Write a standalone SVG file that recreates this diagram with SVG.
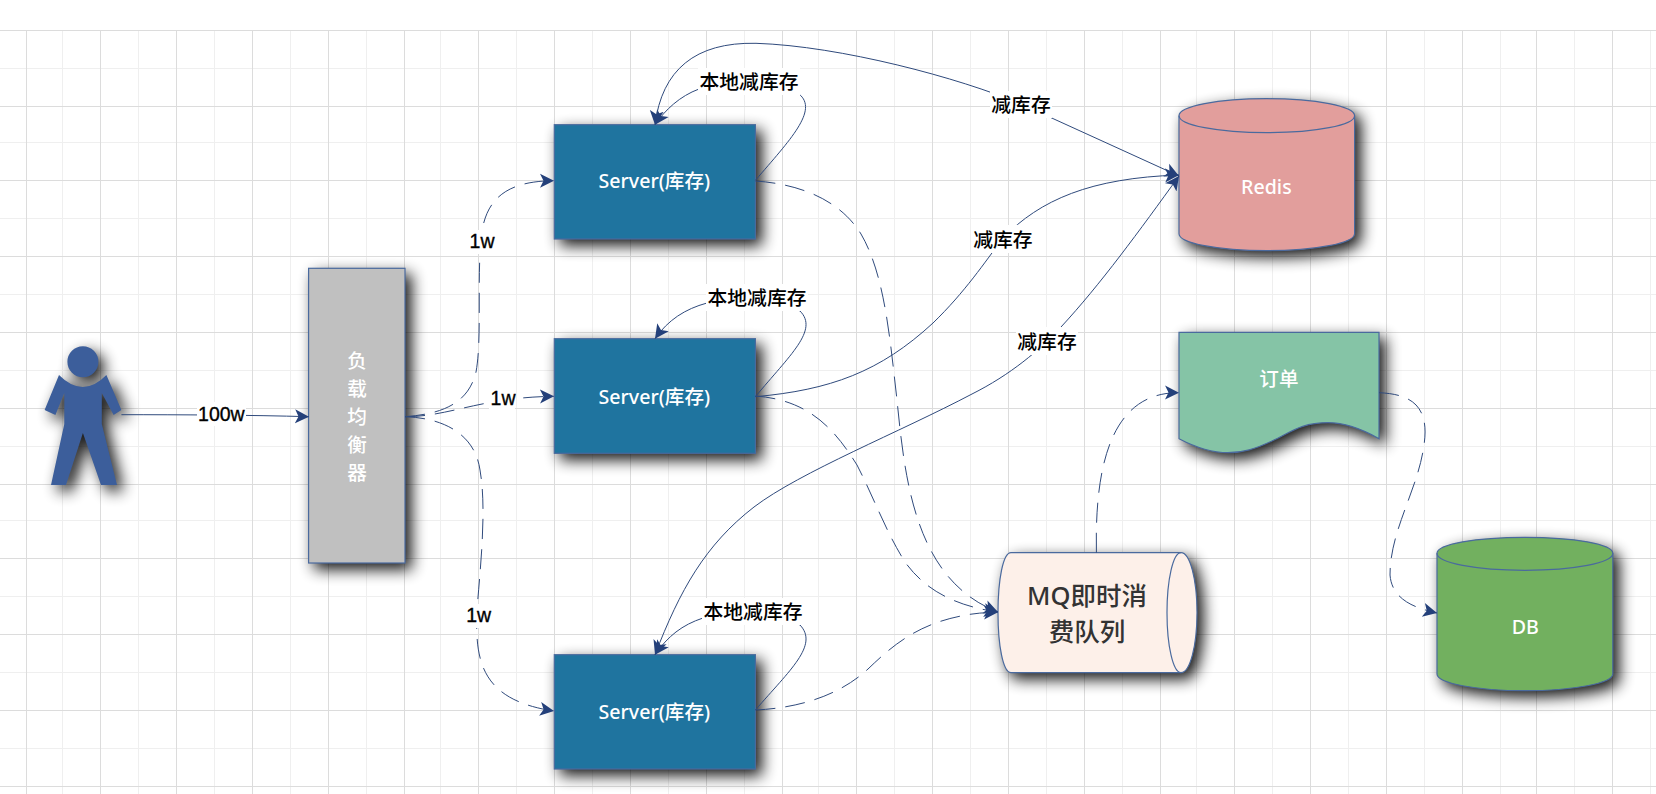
<svg xmlns="http://www.w3.org/2000/svg" width="1656" height="794" viewBox="0 0 1656 794">
<style>
.maj{stroke:#dcdcdc;stroke-width:1;fill:none}
.min{stroke:#efefef;stroke-width:1;fill:none}
.shape{stroke:#4a6a9e;stroke-width:1.2}
.line{stroke:#4a6a9e;stroke-width:1.2;fill:none}
.c{fill:none;stroke:#2f4a7c;stroke-width:1}
.d{stroke-dasharray:20 10}
.a{marker-end:url(#ar)}
.b{marker-start:url(#ar)}
.lb{font:19.5px "Liberation Sans","Noto Sans CJK SC",sans-serif;fill:#000;stroke:#000;stroke-width:.35;text-anchor:middle;dominant-baseline:central}
.lc{font:500 19.8px "Noto Sans CJK SC",sans-serif;fill:#000;text-anchor:middle;dominant-baseline:central}
.bg{fill:#fff}
.t{font:500 19.6px "Noto Sans","Noto Sans CJK SC",sans-serif;fill:#fff;text-anchor:middle;dominant-baseline:central}
.mq{font:500 25.5px "Noto Sans","Noto Sans CJK SC",sans-serif;fill:#333;text-anchor:middle;dominant-baseline:central}
</style>
<defs>
<filter id="sh" x="-40%" y="-40%" width="180%" height="180%" color-interpolation-filters="sRGB"><feGaussianBlur in="SourceAlpha" stdDeviation="7.5"/><feOffset dx="6" dy="6"/><feComponentTransfer result="s"><feFuncA type="linear" slope=".92"/></feComponentTransfer><feMerge><feMergeNode in="s"/><feMergeNode in="SourceGraphic"/></feMerge></filter>
<marker id="ar" markerUnits="userSpaceOnUse" markerWidth="16" markerHeight="18" viewBox="0 -9 16 18" refX="14" refY="0" orient="auto-start-reverse"><path d="M0-7L14 0L0 7L3.5 0Z" fill="#24407a"/></marker>
</defs>
<rect width="1656" height="794" fill="#fff"/>
<g id="grid">
<path class="min" d="M0 68.5H1656M0 142.5H1656M0 218.5H1656M0 294.5H1656M0 370.5H1656M0 446.5H1656M0 520.5H1656M0 596.5H1656M0 672.5H1656M0 748.5H1656M62.5 31V794M138.5 31V794M214.5 31V794M290.5 31V794M366.5 31V794M440.5 31V794M516.5 31V794M592.5 31V794M668.5 31V794M744.5 31V794M818.5 31V794M894.5 31V794M970.5 31V794M1046.5 31V794M1122.5 31V794M1196.5 31V794M1272.5 31V794M1348.5 31V794M1424.5 31V794M1500.5 31V794M1574.5 31V794M1650.5 31V794"/>
<path class="maj" d="M0 30.5H1656M0 106.5H1656M0 180.5H1656M0 256.5H1656M0 332.5H1656M0 408.5H1656M0 484.5H1656M0 558.5H1656M0 634.5H1656M0 710.5H1656M0 786.5H1656M26.5 31V794M100.5 31V794M176.5 31V794M252.5 31V794M328.5 31V794M404.5 31V794M478.5 31V794M554.5 31V794M630.5 31V794M706.5 31V794M782.5 31V794M856.5 31V794M932.5 31V794M1008.5 31V794M1084.5 31V794M1160.5 31V794M1234.5 31V794M1310.5 31V794M1386.5 31V794M1462.5 31V794M1536.5 31V794M1612.5 31V794"/>
</g>
<g id="user">
<path fill="#3c5e9b" filter="url(#sh)" d="M59 375Q82.9 399 106.4 375L121.4 410L113.6 415L101.8 393V424L117 485H101L82.9 433L66 485H51L64.3 424V393L55.4 415L44.6 410ZM98.4 361.7A15.5 15.5 0 1 1 67.4 361.7A15.5 15.5 0 1 1 98.4 361.7Z"/>
</g>
<g id="lb">
<rect class="shape" filter="url(#sh)" x="308.6" y="268.3" width="96.4" height="294.7" fill="#c0c0c0"/>
<text class="t" x="357" y="360.7">负</text><text class="t" x="357" y="388.7">载</text><text class="t" x="357" y="416.7">均</text><text class="t" x="357" y="444.7">衡</text><text class="t" x="357" y="472.7">器</text>
</g>
<g id="server1"><rect class="shape" filter="url(#sh)" x="554.3" y="124.7" width="201.1" height="114.3" fill="#1f749f"/><text class="t" x="654.3" y="180">Server(库存)</text></g>
<g id="server2"><rect class="shape" filter="url(#sh)" x="554.3" y="338.7" width="201.1" height="114.6" fill="#1f749f"/><text class="t" x="654.3" y="396">Server(库存)</text></g>
<g id="server3"><rect class="shape" filter="url(#sh)" x="554.3" y="654.7" width="201.1" height="114.3" fill="#1f749f"/><text class="t" x="654.3" y="711">Server(库存)</text></g>
<g id="redis">
<path class="shape" filter="url(#sh)" fill="#e29e9c" d="M1179 115.7C1179 106 1218 98.7 1266.8 98.7S1354.6 106 1354.6 115.7V233.7C1354.6 243 1316 250.7 1266.8 250.7S1179 243 1179 233.7Z"/>
<path class="line" d="M1179 115.7C1179 125 1218 132.7 1266.8 132.7S1354.6 125 1354.6 115.7"/>
<text class="t" x="1266.4" y="186.7">Redis</text>
</g>
<g id="order">
<path class="shape" filter="url(#sh)" fill="#85c4a6" d="M1179 332.3H1379V438.7C1360 428 1345 422.7 1328 422.7C1300 422.7 1290 433 1272 441C1255 449 1243 452.7 1228 452.7C1210 452.7 1195 447 1179 438.7Z"/>
<text class="t" x="1278.9" y="378.3">订单</text>
</g>
<g id="db">
<path class="shape" filter="url(#sh)" fill="#72b05f" d="M1437 553.3C1437 544 1476 537.3 1525 537.3S1612.8 544 1612.8 553.3V674C1612.8 683 1574 690.7 1525 690.7S1437 683 1437 674Z"/>
<path class="line" d="M1437 553.3C1437 563 1476 570.3 1525 570.3S1612.8 563 1612.8 553.3"/>
<text class="t" x="1525.3" y="626.3">DB</text>
</g>
<g id="mq">
<path class="shape" filter="url(#sh)" fill="#fdf0e9" d="M1181 552.7H1011C1003 552.7 998 580 998 612.7S1003 672.7 1011 672.7H1181C1190 672.7 1197 646 1197 612.7S1190 552.7 1181 552.7Z"/>
<path class="line" d="M1181 552.7C1173 552.7 1167 580 1167 612.7S1173 672.7 1181 672.7"/>
<text class="mq" x="1087" y="595">MQ即时消</text>
<text class="mq" x="1087" y="631">费队列</text>
</g>
<g id="connectors">
<path class="c a" d="M121.4 414.7C180 414.7 250 415 309 416.7"/>
<path class="c d a" d="M405 416.7C440 414 468 405 476 372C482 340 477 280 481 240C484 200 505 181 554 180.7"/>
<path class="c d a" d="M405 416.7C450 416.7 480 397.3 554 396.3"/>
<path class="c d a" d="M405 416.7C445 418 475 435 480 470C487 510 480 570 477 610C475 660 480 700 554 711"/>
<path class="c a" d="M755.4 180.3C790 140 819 110 799 94C770 75 720 80 699 89C680 96 665 110 655 124.7"/>
<path class="c a" d="M755.4 396.7C790 355 819 330 800 311C775 295 730 298 707 303C685 309 668 320 655 338.7"/>
<path class="c a" d="M755.4 710C790 670 819 645 800 625C775 610 730 612 703 618C682 625 668 636 655 654.7"/>
<path class="c a b" d="M655 124.7C662 70 695 42 756 43.3C840 46 960 78 1021 104L1179 176"/>
<path class="c a" d="M755.4 396.7C830 390 880 372 933 323C965 292 985 262 1003 238C1040 200 1090 178 1179 175"/>
<path class="c a b" d="M655 654.7C680 590 705 545 754 507C800 472 900 432 972 394C1010 375 1040 350 1061 327C1100 285 1140 230 1179 176"/>
<path class="c d a" d="M755.4 181C800 184 840 200 861 234C885 275 890 340 897 400C905 480 915 580 998 612"/>
<path class="c d a" d="M755.4 396C810 400 835 430 857 465C875 500 885 530 905 562C925 590 955 606 998 612"/>
<path class="c d a" d="M755.4 710C800 708 840 695 868 669C890 648 915 625 961 616C975 613 985 612.5 998 612.3"/>
<path class="c d a" d="M1096.4 552.7C1095 480 1105 392 1179 392.7"/>
<path class="c d a" d="M1379 392.7C1410 394 1430 405 1424 445C1418 490 1390 530 1390 575C1392 600 1415 608 1437 613"/>
<rect class="bg" x="197" y="402" width="49" height="24"/><text class="lb" x="221.4" y="413.5">100w</text>
<rect class="bg" x="469" y="230" width="26" height="24"/><text class="lb" x="482" y="241">1w</text>
<rect class="bg" x="489" y="387" width="26" height="24"/><text class="lb" x="503" y="398">1w</text>
<rect class="bg" x="465" y="604" width="27" height="24"/><text class="lb" x="478.6" y="615">1w</text>
<rect class="bg" x="698" y="68" width="102" height="27"/><text class="lc" x="749" y="80">本地减库存</text>
<rect class="bg" x="706" y="284" width="102" height="27"/><text class="lc" x="757" y="296">本地减库存</text>
<rect class="bg" x="702" y="598" width="102" height="27"/><text class="lc" x="753" y="610">本地减库存</text>
<rect class="bg" x="990" y="91" width="62" height="27"/><text class="lc" x="1021" y="103.6">减库存</text>
<rect class="bg" x="972" y="225" width="62" height="28"/><text class="lc" x="1002.9" y="238">减库存</text>
<rect class="bg" x="1016" y="327" width="62" height="28"/><text class="lc" x="1047" y="340">减库存</text>
</g>
</svg>
